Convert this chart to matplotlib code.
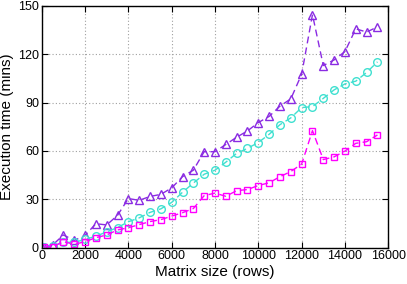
import matplotlib
matplotlib.use('Agg')
import matplotlib.pyplot as plt

plt.rcParams['font.family'] = ['Liberation Sans', 'DejaVu Sans']

sizes = [100, 500, 1000, 1500, 2000, 2500, 3000, 3500, 4000, 4500, 5000,
         5500, 6000, 6500, 7000, 7500, 8000, 8500, 9000, 9500, 10000, 10500,
         11000, 11500, 12000, 12500, 13000, 13500, 14000, 14500, 15000, 15500]

purple = [0.5, 1.5, 7.8, 4.4, 7.5, 14.8, 14, 20, 30.4, 29.3, 31.7, 33, 37,
          44, 48, 59.5, 59.5, 64, 68.5, 72.4, 77.6, 81.4, 87.8, 92.3, 107.6,
          144.6, 113, 116.5, 121.7, 135.8, 133.8, 137]
cyan = [0.3, 0.8, 3.3, 3.2, 5, 7, 9.7, 12.4, 16, 18.4, 21.8, 24, 28, 34.3,
        40, 45.5, 48, 53, 58.5, 61.6, 65.2, 70.3, 76.3, 80.5, 86.9, 87.5,
        92.6, 97.9, 101.6, 103.3, 108.7, 115.3]
magenta = [0.3, 0.5, 3.6, 2, 3.6, 6.1, 7.8, 10.9, 12.3, 14.2, 16.1, 17.3,
           19.5, 21.6, 24.2, 32.2, 33.8, 31.8, 35.3, 36, 38.5, 40.2, 44,
           47.2, 51.8, 72.6, 54.6, 56.3, 59.9, 64.7, 65.7, 69.9]

fig = plt.figure(figsize=(4.07, 2.84), dpi=100)
ax = fig.add_axes([0.1025, 0.1285, 0.8515, 0.8505])

ax.plot(sizes, purple, color='#8a2be2', linestyle=(0, (5, 3)), linewidth=1,
        marker='^', markersize=5.5, markerfacecolor='none', markeredgewidth=1)
ax.plot(sizes, cyan, color='#40e0d0', linestyle=(0, (5, 3)), linewidth=1,
        marker='o', markersize=5.5, markerfacecolor='none', markeredgewidth=1)
ax.plot(sizes, magenta, color='#ff00ff', linestyle=(0, (5, 3)), linewidth=1,
        marker='s', markersize=5, markerfacecolor='none', markeredgewidth=1)

ax.set_xlim(0, 16000)
ax.set_ylim(0, 150)
ax.set_xticks(range(0, 16001, 2000))
ax.set_yticks(range(0, 151, 30))
ax.grid(True, color='#a0a0a0', linestyle=(0, (1, 2)), linewidth=0.8)
ax.tick_params(direction='in', length=4, labelsize=9, top=True, right=True,
               pad=2)
for s in ax.spines.values():
    s.set_linewidth(1)

ax.set_xlabel('Matrix size (rows)', fontsize=11, labelpad=2)
ax.set_ylabel('Execution time (mins)', fontsize=11, labelpad=3)

fig.savefig('out.png', dpi=100)
